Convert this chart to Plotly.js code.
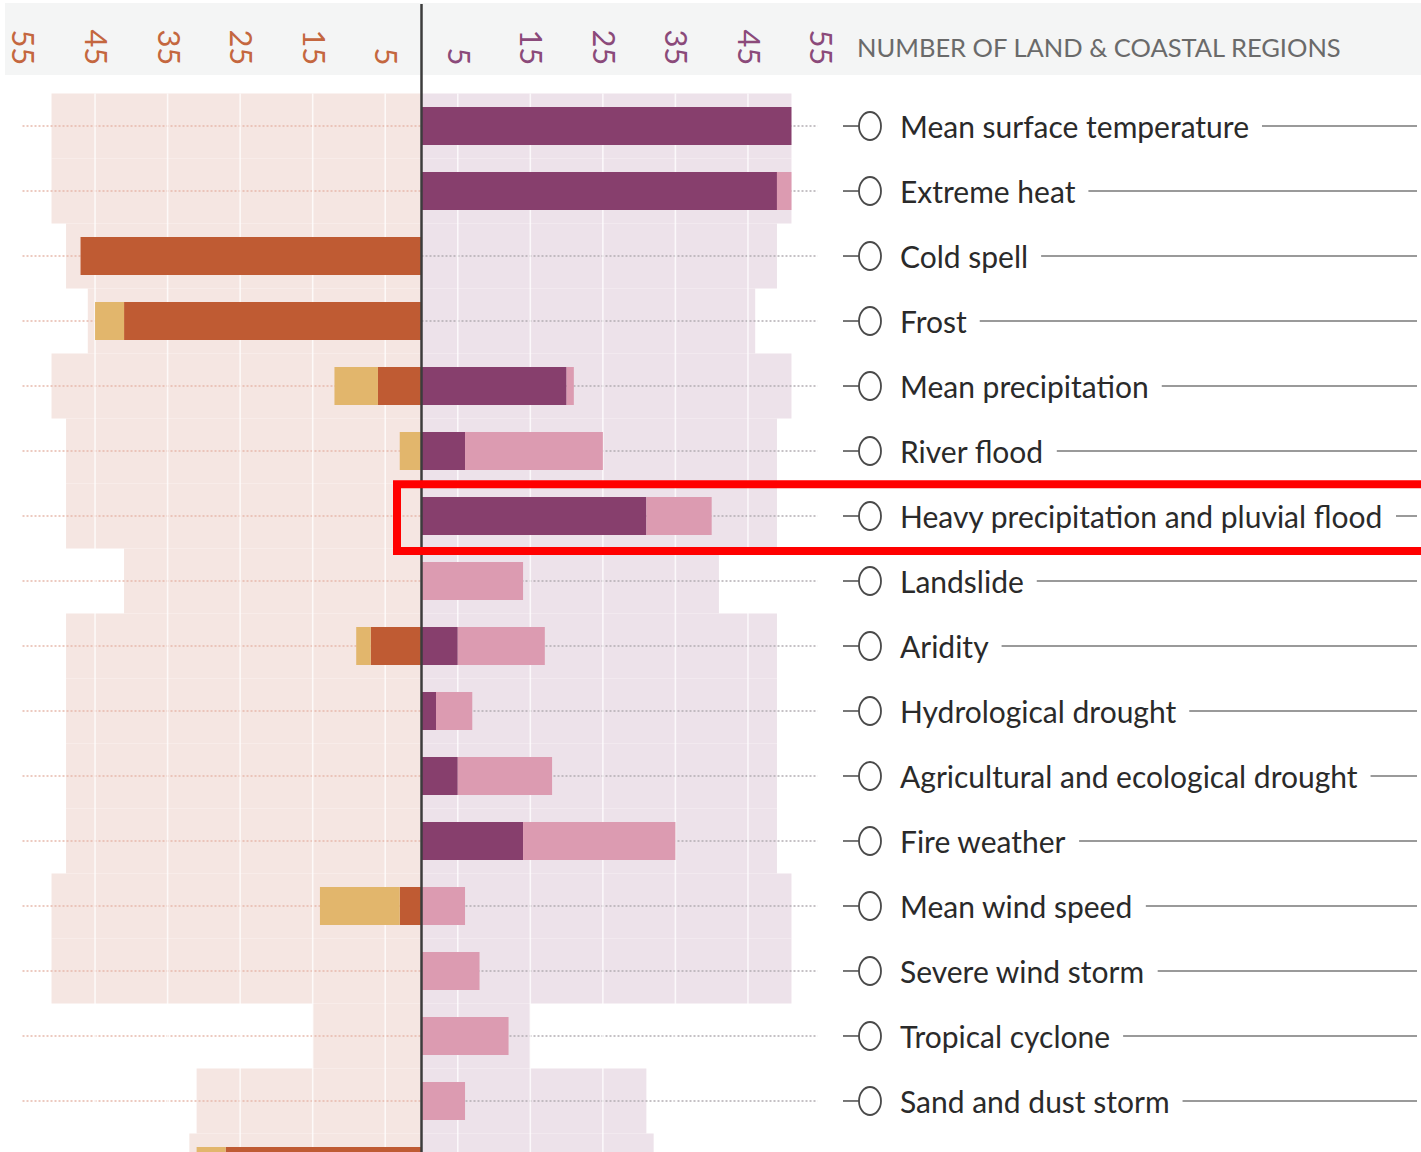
<!DOCTYPE html>
<html><head><meta charset="utf-8">
<script src="https://cdn.plot.ly/plotly-3.0.1.min.js"></script>
<style>html,body{margin:0;padding:0;background:#fff;} #chart{width:1421px;height:1152px;}</style>
</head><body><div id="chart"></div>
<script>
// ---------------- data ----------------
const categories = ["Mean surface temperature","Extreme heat","Cold spell","Frost","Mean precipitation","River flood","Heavy precipitation and pluvial flood","Landslide","Aridity","Hydrological drought","Agricultural and ecological drought","Fire weather","Mean wind speed","Severe wind storm","Tropical cyclone","Sand and dust storm","Snow, glacier and ice sheet"];
const assessedRegions = [51,51,49,46,51,49,49,41,49,49,49,49,51,51,15,31,32];
const increaseHigh   = [51,49,0,0,20,6,31,0,5,2,5,14,0,0,0,0,0];
const increaseMedium = [0,2,0,0,1,19,9,14,12,5,13,21,6,8,12,6,0];
const decreaseHigh   = [0,0,47,41,6,0,0,0,7,0,0,0,3,0,0,0,27];
const decreaseMedium = [0,0,0,4,6,3,0,0,2,0,0,0,11,0,0,0,4];
const tickValues = [5,15,25,35,45,55];
const tickLabels = ["5","15","25","35","45","55"];
const axisTitle = "NUMBER OF LAND & COASTAL REGIONS";
const highlighted = "Heavy precipitation and pluvial flood";

// ---------------- geometry / style ----------------
const W = 1421, H = 1152;
const M = {l: 8, r: 586, t: 75, b: 0};
const PW = W - M.l - M.r, PH = H - M.t - M.b;
const xRange = [-57, 57];
const yRange = [15.785, -0.785];
const rowPx = PH / (yRange[0] - yRange[1]);
const px2paperX = p => (p - M.l) / PW;
const px2paperY = p => (H - M.b - p) / PH;
const FONT = "Lato, 'Open Sans', sans-serif";
const labelSize = 30;

const idx = categories.map((c, i) => i);
const neg = a => a.map(v => -v);

const C = {
  bgLeft: '#f5e6e2', bgRight: '#ede2ea',
  decHigh: '#bf5b33', decMed: '#e2b66c',
  incHigh: '#873f6d', incMed: '#dc9bb1',
  dotLeft: '#e6b9ac', dotRight: '#b3adb3'
};

const traces = [];
// background bands: number of assessed regions
traces.push({type:'bar', orientation:'h', x: neg(assessedRegions), y: idx, width: 1,
  marker:{color:C.bgLeft, line:{width:0}}, hoverinfo:'skip', showlegend:false, xaxis:'x', yaxis:'y'});
traces.push({type:'bar', orientation:'h', x: assessedRegions, y: idx, width: 1,
  marker:{color:C.bgRight, line:{width:0}}, hoverinfo:'skip', showlegend:false, xaxis:'x', yaxis:'y'});

// dotted guide lines
const maxTick = Math.max(...tickValues);
function segs(x0, x1) {
  const xs = [], ys = [];
  idx.forEach(i => { xs.push(x0, x1, null); ys.push(i, i, null); });
  return {xs, ys};
}
const dl = segs(-maxTick, 0), dr = segs(0, maxTick - 0.4);
traces.push({type:'scatter', mode:'lines', x: dl.xs, y: dl.ys, line:{color:C.dotLeft, width:1.4, dash:'2px,2px'},
  hoverinfo:'skip', showlegend:false, xaxis:'x', yaxis:'y'});
traces.push({type:'scatter', mode:'lines', x: dr.xs, y: dr.ys, line:{color:C.dotRight, width:1.4, dash:'2px,2px'},
  hoverinfo:'skip', showlegend:false, xaxis:'x', yaxis:'y'});

// white grid lines inside the bands
const gx = [], gy = [];
tickValues.filter(v => v < maxTick).forEach(v => {
  [-v, v].forEach(t => { gx.push(t, t, null); gy.push(-0.5, idx.length - 0.5, null); });
});
traces.push({type:'scatter', mode:'lines', x: gx, y: gy, line:{color:'rgba(255,255,255,0.75)', width:1.6},
  hoverinfo:'skip', showlegend:false, xaxis:'x', yaxis:'y'});

// data bars (overlay subplot so they sit above guides)
const barW = 0.585;
[[neg(decreaseHigh), C.decHigh, 'Decrease (high confidence)'],
 [neg(decreaseMedium), C.decMed, 'Decrease (medium confidence)'],
 [increaseHigh, C.incHigh, 'Increase (high confidence)'],
 [increaseMedium, C.incMed, 'Increase (medium confidence)']].forEach(([vals, col, name]) => {
  traces.push({type:'bar', orientation:'h', name, x: vals, y: idx, width: barW,
    marker:{color: col, line:{width:0}}, showlegend:false, xaxis:'x2', yaxis:'y',
    hovertemplate: '%{y}: %{x}<extra></extra>'});
});

// ---------------- shapes & annotations ----------------
const shapes = [];
const annotations = [];

// header band
shapes.push({type:'rect', xref:'paper', yref:'paper', x0: px2paperX(5), x1: px2paperX(W + 5),
  y0: px2paperY(75), y1: px2paperY(3), fillcolor:'#f4f5f5', line:{width:0}, layer:'below'});

// centre line
shapes.push({type:'line', xref:'x', yref:'paper', x0:0, x1:0, y0: px2paperY(H), y1: px2paperY(4),
  line:{color:'#3c3c3c', width:2.5}, layer:'above'});

annotations.push({xref:'paper', yref:'paper', x: px2paperX(856), y: px2paperY(47), xanchor:'left', yanchor:'middle',
  text: axisTitle, showarrow:false, font:{family:FONT, size:25.5, color:'#6a6a6a'}, borderpad:0});

// row labels with marker and leader line
const ctx = document.createElement('canvas').getContext('2d');
ctx.font = labelSize + 'px Lato';
const dy = 14 / rowPx;
categories.forEach((c, i) => {
  if (i > yRange[0]) return;
  shapes.push({type:'line', xref:'paper', yref:'y', x0: px2paperX(843), x1: px2paperX(859), y0:i, y1:i,
    line:{color:'#555', width:1.6}});
  shapes.push({type:'circle', xref:'paper', yref:'y', x0: px2paperX(859), x1: px2paperX(881), y0: i - dy, y1: i + dy,
    fillcolor:'#ffffff', line:{color:'#4a4a4a', width:1.8}});
  annotations.push({xref:'paper', yref:'y', x: px2paperX(899), y: i, xanchor:'left', yanchor:'middle',
    text: c, showarrow:false, font:{family:FONT, size:labelSize, color:'#2a2a2a'}, borderpad:0});
  const w = ctx.measureText(c).width;
  shapes.push({type:'line', xref:'paper', yref:'y', x0: px2paperX(899 + w + 14), x1: px2paperX(1417), y0:i, y1:i,
    line:{color:'#9a9a9a', width:2}});
});

// highlight box
const hi = categories.indexOf(highlighted);
shapes.push({type:'rect', xref:'paper', yref:'y', x0: px2paperX(397), x1: px2paperX(W + 30),
  y0: hi - 0.49, y1: hi + 0.54, line:{color:'#ff0000', width:8}, fillcolor:'rgba(0,0,0,0)', layer:'above'});

const layout = {
  width: W, height: H, margin: M, paper_bgcolor:'#ffffff', plot_bgcolor:'rgba(0,0,0,0)',
  barmode:'relative', showlegend:false, font:{family:FONT},
  xaxis: {range: xRange, side:'top', tickmode:'array', tickvals: neg(tickValues), ticktext: tickLabels,
    tickangle: 90, ticks:'', showgrid:false, zeroline:false, showline:false, fixedrange:true,
    ticklabelstandoff: 4, tickfont:{family:FONT, size:31, color:'#c4673f'}},
  xaxis2: {range: xRange, overlaying:'x', side:'top', anchor:'y', tickmode:'array', tickvals: tickValues, ticktext: tickLabels,
    tickangle: 90, ticks:'', showgrid:false, zeroline:false, showline:false, fixedrange:true,
    ticklabelstandoff: 4, tickfont:{family:FONT, size:31, color:'#8b4a7a'}},
  yaxis: {range: yRange, showticklabels:false, showgrid:false, zeroline:false, showline:false, fixedrange:true},
  shapes, annotations
};

Plotly.newPlot('chart', traces, layout, {displayModeBar:false, staticPlot:true});
</script>
</body></html>
